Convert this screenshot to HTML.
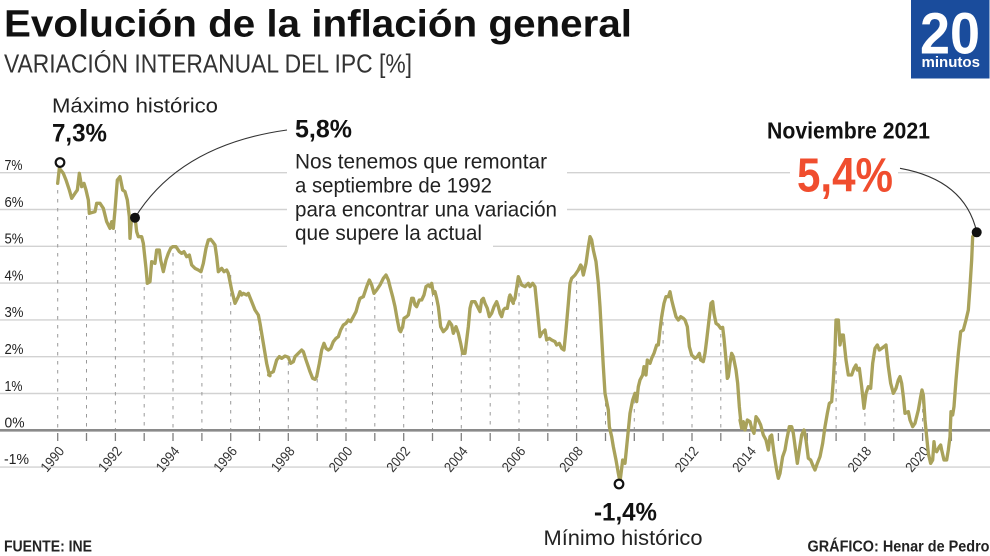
<!DOCTYPE html>
<html><head><meta charset="utf-8"><style>
html,body{margin:0;padding:0;background:#fff;}
svg{display:block;}
text{font-family:"Liberation Sans",sans-serif;}
</style></head><body>
<svg width="990" height="556" viewBox="0 0 990 556" xmlns="http://www.w3.org/2000/svg">
<rect width="990" height="556" fill="#fff"/>
<!-- title -->
<text x="4" y="36.5" font-size="38" font-weight="bold" fill="#111" textLength="628" lengthAdjust="spacingAndGlyphs">Evolución de la inflación general</text>
<text x="4" y="72.5" font-size="26" fill="#333" textLength="408" lengthAdjust="spacingAndGlyphs">VARIACIÓN INTERANUAL DEL IPC [%]</text>
<!-- logo -->
<rect x="911" y="0" width="78.5" height="78.5" fill="#1a4c9c"/>
<text x="920" y="53.3" font-size="58" font-weight="bold" fill="#fff" textLength="60" lengthAdjust="spacingAndGlyphs">20</text>
<text x="921.5" y="67" font-size="15" font-weight="bold" fill="#fff" textLength="58.5" lengthAdjust="spacingAndGlyphs">minutos</text>

<!-- gridlines -->
<g stroke="#d2d2d2" stroke-width="1.4">
<line x1="0" y1="172.7" x2="990" y2="172.7"/>
<line x1="0" y1="209.5" x2="990" y2="209.5"/>
<line x1="0" y1="246.3" x2="990" y2="246.3"/>
<line x1="0" y1="283.1" x2="990" y2="283.1"/>
<line x1="0" y1="319.9" x2="990" y2="319.9"/>
<line x1="0" y1="356.7" x2="990" y2="356.7"/>
<line x1="0" y1="393.5" x2="990" y2="393.5"/>
<line x1="0" y1="467.1" x2="990" y2="467.1"/>
</g>
<line x1="0" y1="430.3" x2="990" y2="430.3" stroke="#8a8a8a" stroke-width="2.6"/>

<!-- y labels -->
<g font-size="15" fill="#222">
<text x="4.5" y="170" textLength="18" lengthAdjust="spacingAndGlyphs">7%</text>
<text x="4.5" y="206.8" textLength="19" lengthAdjust="spacingAndGlyphs">6%</text>
<text x="4.5" y="243.6" textLength="19" lengthAdjust="spacingAndGlyphs">5%</text>
<text x="4.5" y="280.4" textLength="19" lengthAdjust="spacingAndGlyphs">4%</text>
<text x="4.5" y="317.2" textLength="19" lengthAdjust="spacingAndGlyphs">3%</text>
<text x="4.5" y="354" textLength="19" lengthAdjust="spacingAndGlyphs">2%</text>
<text x="4.5" y="390.8" textLength="18" lengthAdjust="spacingAndGlyphs">1%</text>
<text x="4.5" y="427.3" textLength="20" lengthAdjust="spacingAndGlyphs">0%</text>
<text x="4" y="464" textLength="25" lengthAdjust="spacingAndGlyphs">-1%</text>
</g>

<!-- ticks -->
<g stroke="#808080" stroke-width="1.3">
<line x1="57.7" y1="433" x2="57.7" y2="441"/><line x1="86.5" y1="433" x2="86.5" y2="441"/><line x1="115.4" y1="433" x2="115.4" y2="441"/><line x1="144.2" y1="433" x2="144.2" y2="441"/><line x1="173" y1="433" x2="173" y2="441"/><line x1="201.9" y1="433" x2="201.9" y2="441"/><line x1="230.7" y1="433" x2="230.7" y2="441"/><line x1="259.5" y1="433" x2="259.5" y2="441"/><line x1="288.3" y1="433" x2="288.3" y2="441"/><line x1="317.2" y1="433" x2="317.2" y2="441"/><line x1="346" y1="433" x2="346" y2="441"/><line x1="374.8" y1="433" x2="374.8" y2="441"/><line x1="403.7" y1="433" x2="403.7" y2="441"/><line x1="432.5" y1="433" x2="432.5" y2="441"/><line x1="461.3" y1="433" x2="461.3" y2="441"/><line x1="490.2" y1="433" x2="490.2" y2="441"/><line x1="519" y1="433" x2="519" y2="441"/><line x1="547.8" y1="433" x2="547.8" y2="441"/><line x1="576.6" y1="433" x2="576.6" y2="441"/><line x1="605.5" y1="433" x2="605.5" y2="441"/><line x1="634.3" y1="433" x2="634.3" y2="441"/><line x1="663.1" y1="433" x2="663.1" y2="441"/><line x1="692" y1="433" x2="692" y2="441"/><line x1="720.8" y1="433" x2="720.8" y2="441"/><line x1="749.6" y1="433" x2="749.6" y2="441"/><line x1="778.4" y1="433" x2="778.4" y2="441"/><line x1="807.3" y1="433" x2="807.3" y2="441"/><line x1="836.1" y1="433" x2="836.1" y2="441"/><line x1="864.9" y1="433" x2="864.9" y2="441"/><line x1="893.8" y1="433" x2="893.8" y2="441"/><line x1="922.6" y1="433" x2="922.6" y2="441"/><line x1="951.4" y1="433" x2="951.4" y2="441"/>
</g>

<!-- dotted verticals -->
<g stroke="#999" stroke-width="1" stroke-dasharray="3.5 5.5">
<line x1="57.7" y1="190" x2="57.7" y2="429"/><line x1="86.5" y1="216" x2="86.5" y2="429"/><line x1="115.4" y1="230" x2="115.4" y2="429"/><line x1="144.2" y1="287" x2="144.2" y2="429"/><line x1="173" y1="253" x2="173" y2="429"/><line x1="201.9" y1="275" x2="201.9" y2="429"/><line x1="230.7" y1="275" x2="230.7" y2="429"/><line x1="259.5" y1="327" x2="259.5" y2="429"/><line x1="288.3" y1="362" x2="288.3" y2="429"/><line x1="317.2" y1="379" x2="317.2" y2="429"/><line x1="346" y1="328" x2="346" y2="429"/><line x1="374.8" y1="297" x2="374.8" y2="429"/><line x1="403.7" y1="325" x2="403.7" y2="429"/><line x1="432.5" y1="293" x2="432.5" y2="429"/><line x1="461.3" y1="353" x2="461.3" y2="429"/><line x1="490.2" y1="322" x2="490.2" y2="429"/><line x1="519" y1="284" x2="519" y2="429"/><line x1="547.8" y1="342" x2="547.8" y2="429"/><line x1="576.6" y1="281" x2="576.6" y2="429"/><line x1="605.5" y1="403" x2="605.5" y2="429"/><line x1="634.3" y1="400" x2="634.3" y2="429"/><line x1="663.1" y1="313" x2="663.1" y2="429"/><line x1="692" y1="361" x2="692" y2="429"/><line x1="720.8" y1="334" x2="720.8" y2="429"/><line x1="836.1" y1="326" x2="836.1" y2="429"/><line x1="864.9" y1="413" x2="864.9" y2="429"/><line x1="893.8" y1="400" x2="893.8" y2="429"/><line x1="922.6" y1="400" x2="922.6" y2="429"/><line x1="951.4" y1="419" x2="951.4" y2="429"/>
</g>

<!-- year labels -->
<g font-size="14" fill="#333" text-anchor="end">
<text transform="translate(65,451.5) rotate(-50)" textLength="28" lengthAdjust="spacingAndGlyphs">1990</text>
<text transform="translate(122.6,451.5) rotate(-50)" textLength="28" lengthAdjust="spacingAndGlyphs">1992</text>
<text transform="translate(180.2,451.5) rotate(-50)" textLength="28" lengthAdjust="spacingAndGlyphs">1994</text>
<text transform="translate(237.9,451.5) rotate(-50)" textLength="28" lengthAdjust="spacingAndGlyphs">1996</text>
<text transform="translate(295.5,451.5) rotate(-50)" textLength="28" lengthAdjust="spacingAndGlyphs">1998</text>
<text transform="translate(353.2,451.5) rotate(-50)" textLength="28" lengthAdjust="spacingAndGlyphs">2000</text>
<text transform="translate(410.9,451.5) rotate(-50)" textLength="28" lengthAdjust="spacingAndGlyphs">2002</text>
<text transform="translate(468.5,451.5) rotate(-50)" textLength="28" lengthAdjust="spacingAndGlyphs">2004</text>
<text transform="translate(526.2,451.5) rotate(-50)" textLength="28" lengthAdjust="spacingAndGlyphs">2006</text>
<text transform="translate(583.8,451.5) rotate(-50)" textLength="28" lengthAdjust="spacingAndGlyphs">2008</text>
<text transform="translate(699.2,451.5) rotate(-50)" textLength="28" lengthAdjust="spacingAndGlyphs">2012</text>
<text transform="translate(756.8,451.5) rotate(-50)" textLength="28" lengthAdjust="spacingAndGlyphs">2014</text>
<text transform="translate(872.1,451.5) rotate(-50)" textLength="28" lengthAdjust="spacingAndGlyphs">2018</text>
<text transform="translate(929.8,451.5) rotate(-50)" textLength="28" lengthAdjust="spacingAndGlyphs">2020</text>
</g>

<!-- annotation white boxes -->
<rect x="287" y="144" width="280" height="82" fill="#fff"/>
<rect x="287" y="224" width="206" height="26" fill="#fff"/>
<rect x="790" y="150" width="108" height="46" fill="#fff"/>

<!-- data line -->
<g fill="none" stroke="#a9a25b" stroke-width="10" stroke-linejoin="round" stroke-linecap="round">
<path transform="translate(40,150) scale(0.33333)" d="M53,100 L58,55 L70,70 L78,90 L88,120 L95,145 L105,130 L112,120 L118,70 L125,110 L132,100 L138,120 L145,150 L148,190 L165,185 L170,160 L180,160 L190,175 L200,215 L210,235 L215,215 L220,235 L225,180 L232,90 L240,80 L248,120 L255,125 L262,150 L268,200 L270,265 L275,200 L280,210 L285,200 L290,245 L295,260 L305,260 L310,280 L318,355 L322,400 L330,395 L335,335 L345,340 L350,300 L358,300 L362,330 L370,365 L378,330 L385,310 L392,295 L398,290 L408,290 L418,305 L425,310 L432,305 L440,320 L448,315 L455,345 L465,355 L475,360 L483,365 L490,340 L498,295 L505,270 L512,268 L518,275 L525,285 L530,320 L535,365 L540,360 L545,355 L552,365 L560,360 L565,370 L575,420 L585,460 L595,440 L600,425 L605,435 L610,430 L620,435 L625,430 L635,455 L645,480 L655,495 L660,520 L670,580 L680,640 L688,675 L690,677"/>
<path transform="translate(270,220) scale(0.33333)" d="M-4,465 L0,460 L10,455 L20,420 L28,410 L35,415 L45,408 L55,412 L62,430 L70,425 L75,410 L85,400 L95,390 L100,395 L108,420 L115,440 L120,455 L128,475 L135,478 L140,470 L148,430 L155,390 L162,370 L168,385 L175,390 L182,385 L190,365 L198,355 L205,350 L212,330 L220,315 L228,310 L235,300 L242,305 L250,290 L258,275 L265,250 L270,235 L280,230 L290,200 L298,180 L305,195 L312,220 L320,210 L330,195 L340,175 L348,165 L355,180 L360,200 L368,230 L375,260 L382,300 L388,330 L392,335 L398,320 L402,295 L410,290 L415,285 L420,260 L425,235 L430,235 L435,255 L440,260 L448,240 L455,240 L462,225 L468,200 L475,195 L480,200 L485,190 L490,220 L495,215 L500,235 L505,260 L512,320 L520,335 L530,325 L538,305 L545,315 L550,340 L558,320 L565,340 L572,370 L578,400 L585,400 L590,360 L595,320 L600,265 L605,245 L615,245 L620,255 L630,275 L635,240 L640,235 L645,250 L652,265 L658,290 L665,280 L672,260 L680,245 L685,260 L690,280 L695,290 L700,270 L705,265 L712,265 L718,230 L722,235 L730,250"/>
<path transform="translate(510,220) scale(0.33333)" d="M0,225 L10,245 L15,235 L25,170 L35,195 L45,200 L55,190 L60,200 L68,190 L75,200 L80,250 L85,300 L90,350 L95,340 L105,330 L110,360 L118,355 L125,360 L135,365 L140,375 L148,370 L155,385 L162,390 L168,330 L175,250 L180,190 L185,175 L195,165 L205,150 L212,135 L215,140 L220,165 L228,130 L235,80 L240,50 L245,60 L250,90 L258,125 L265,190 L270,260 L275,350 L280,440 L285,520 L290,545 L295,570 L298,620 L305,650 L310,680 L318,720 L325,760 L330,785 L335,745 L338,720 L345,730 L350,680 L355,630 L360,580 L368,540 L375,520 L380,545 L385,500 L390,480 L398,465 L402,440 L408,465 L412,420 L420,430 L425,415 L432,400 L440,375 L445,375 L450,330 L455,290 L462,250 L468,230 L475,230 L480,215 L485,240 L490,260 L498,290 L505,300 L512,290 L520,295 L525,300 L532,320 L538,380 L545,405 L555,415 L562,410 L568,400 L572,420 L580,425 L585,400 L590,360 L597,300 L603,250 L608,245 L612,280 L618,310 L625,315 L632,325 L638,322 L642,355 L648,420 L652,475 L655,470 L660,430 L665,400 L670,410 L678,450 L683,490 L688,560 L692,600"/>
<path transform="translate(740,220) scale(0.33333)" d="M0,600 L5,625 L10,605 L15,630 L22,600 L30,605 L35,625 L42,640 L48,590 L55,600 L62,615 L70,645 L78,660 L85,690 L90,650 L95,645 L102,700 L110,750 L115,775 L120,760 L128,710 L135,690 L140,660 L148,620 L155,620 L160,640 L168,700 L172,730 L178,690 L185,645 L192,630 L198,660 L205,715 L212,720 L218,735 L225,750 L232,730 L240,710 L248,670 L255,620 L262,580 L268,550 L275,545 L280,480 L285,390 L288,300 L295,300 L300,375 L305,345 L310,345 L318,420 L325,465 L335,465 L342,445 L348,435 L352,450 L358,445 L365,500 L372,565 L378,520 L385,500 L392,505 L398,430 L405,385 L412,375 L418,390 L425,385 L432,380 L438,375 L445,440 L452,490 L460,520 L468,505 L475,480 L480,470 L485,490 L490,530 L495,580 L505,575 L510,600 L518,620 L525,610 L535,570 L542,530 L546,510 L550,525 L555,600 L560,650 L565,700 L572,730 L578,720 L582,665 L585,690 L590,695 L598,680 L602,675 L605,690 L612,720 L620,720 L625,690 L630,650 L633,575 L638,585 L642,560 L648,480 L655,400 L662,335 L670,330 L678,300 L685,270 L690,200 L695,120 L698,50 L705,40"/>
</g>

<!-- connectors -->
<path d="M135,217.7 Q180,145 287,130" fill="none" stroke="#333" stroke-width="1.1"/>
<path d="M900,168.3 Q965,180 976.7,232" fill="none" stroke="#333" stroke-width="1.1"/>

<!-- markers -->
<circle cx="60" cy="162.5" r="4.3" fill="#fff" stroke="#111" stroke-width="2.2"/>
<circle cx="619" cy="484" r="4.3" fill="#fff" stroke="#111" stroke-width="2.2"/>
<circle cx="135" cy="217.7" r="5" fill="#111"/>
<circle cx="976.7" cy="232.3" r="5" fill="#111"/>

<!-- annotations -->
<text x="52" y="112.7" font-size="20" fill="#222" textLength="166" lengthAdjust="spacingAndGlyphs">Máximo histórico</text>
<text x="52" y="141.7" font-size="25" font-weight="bold" fill="#111" textLength="55" lengthAdjust="spacingAndGlyphs">7,3%</text>

<text x="295" y="137.3" font-size="25" font-weight="bold" fill="#111" textLength="57" lengthAdjust="spacingAndGlyphs">5,8%</text>
<g font-size="21" fill="#222">
<text x="295" y="168.3" textLength="252" lengthAdjust="spacingAndGlyphs">Nos tenemos que remontar</text>
<text x="295" y="192.3" textLength="197" lengthAdjust="spacingAndGlyphs">a septiembre de 1992</text>
<text x="295" y="216.3" textLength="262" lengthAdjust="spacingAndGlyphs">para encontrar una variación</text>
<text x="295" y="240" textLength="187" lengthAdjust="spacingAndGlyphs">que supere la actual</text>
</g>

<text x="767" y="138.3" font-size="23" font-weight="bold" fill="#111" textLength="163" lengthAdjust="spacingAndGlyphs">Noviembre 2021</text>
<text x="797" y="191.7" font-size="48" font-weight="bold" fill="#f04d2e" textLength="96" lengthAdjust="spacingAndGlyphs">5,4%</text>

<text x="594" y="520.7" font-size="25" font-weight="bold" fill="#111" textLength="63" lengthAdjust="spacingAndGlyphs">-1,4%</text>
<text x="543.5" y="545" font-size="21" fill="#222" textLength="159" lengthAdjust="spacingAndGlyphs">Mínimo histórico</text>

<text x="4" y="551.7" font-size="16" font-weight="bold" fill="#222" textLength="88" lengthAdjust="spacingAndGlyphs">FUENTE: INE</text>
<text x="807.5" y="551.7" font-size="16" font-weight="bold" fill="#222" textLength="182" lengthAdjust="spacingAndGlyphs">GRÁFICO: Henar de Pedro</text>
</svg>
</body></html>
